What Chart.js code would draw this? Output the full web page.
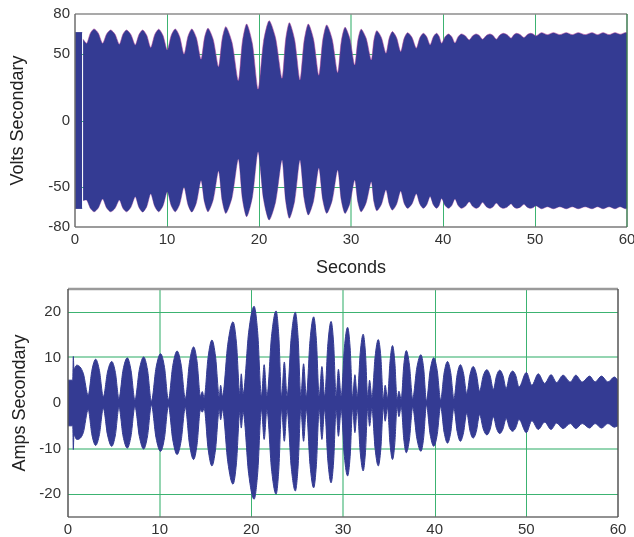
<!DOCTYPE html>
<html>
<head>
<meta charset="utf-8">
<script src="https://cdn.jsdelivr.net/npm/chart.js@4/dist/chart.umd.min.js"></script>
<style>
  html, body { margin: 0; padding: 0; background: #ffffff; }
  body { width: 634px; height: 537px; position: relative; overflow: hidden; }
  #c1wrap { position: absolute; left: 0; top: 0; width: 634px; height: 280px; }
  #c2wrap { position: absolute; left: 0; top: 280px; width: 634px; height: 257px; }
</style>
</head>
<body>
<div id="c1wrap"><canvas id="volts" width="634" height="280"></canvas></div>
<div id="c2wrap"><canvas id="amps" width="634" height="257"></canvas></div>
<script>
// ---------------- DATA ----------------
const xTicks = [0, 10, 20, 30, 40, 50, 60];
const voltsTicks = [-80, -50, 0, 50, 80];
const ampsTicks = [-20, -10, 0, 10, 20];
const voltsGridX = [10, 20, 30, 40, 50];
const voltsGridY = [-50, 0, 50];
const ampsGridX = [10, 20, 30, 40, 50];
const ampsGridY = [-20, -10, 0, 10, 20];

// Volts secondary: initial block (0 - 0.78 s)
const voltsStartTime = [0, 0.78];
const voltsStartUpper = [66, 66];
const voltsStartLower = [-66, -66];

// Volts secondary: envelope of the oscillation (beat peaks, shoulders, troughs)
const voltsTime = [0.88, 1.27, 1.67, 2.07, 2.535, 3.0, 3.44, 3.88, 4.35, 4.82, 5.21, 5.6, 6.075, 6.55, 6.955, 7.36,
  7.795, 8.23, 8.665, 9.1, 9.565, 10.03, 10.465, 10.9, 11.375, 11.85, 12.275, 12.7, 13.2, 13.7, 14.08, 14.46,
  15.03, 15.6, 16.0, 16.4, 17.075, 17.75, 18.205, 18.66, 19.28, 19.9, 20.5, 21.1, 21.8, 22.5, 22.9, 23.3,
  23.875, 24.45, 24.905, 25.36, 25.93, 26.5, 26.93, 27.36, 27.955, 28.55, 28.95, 29.35, 29.875, 30.4, 30.75, 31.1,
  31.65, 32.2, 32.5, 32.8, 33.3, 33.8, 34.15, 34.5, 34.95, 35.4, 35.775, 36.15, 36.625, 37.1, 37.48, 37.86,
  38.23, 38.6, 38.95, 39.3, 39.575, 39.85, 40.225, 40.6, 40.95, 41.3, 41.65, 42.0, 42.425, 42.85, 43.225, 43.6,
  43.95, 44.3, 44.7, 45.1, 45.45, 45.8, 46.175, 46.55, 46.975, 47.4, 47.7, 48.0, 48.4, 48.8, 49.15, 49.5,
  49.8, 50.1, 50.7, 51.35, 52.0, 52.7, 53.4, 54.05, 54.7, 55.45, 56.2, 56.8, 57.4, 58.05, 58.7, 59.25,
  59.8, 60];
const voltsUpper = [61, 58, 65.6, 68.8, 65.6, 58, 65, 68, 64.8, 57.3, 64.8, 68, 64.6, 56.8, 64.6, 68,
  64.0, 54.8, 64.5, 68.6, 63.9, 53, 64.1, 68.8, 63.1, 49.8, 63.1, 68.8, 62.0, 46, 62.3, 69.3,
  60.7, 40.5, 61.5, 70.5, 58.4, 30, 59.8, 72.5, 57.8, 23.5, 59.6, 75, 62.0, 31.7, 61.0, 73.5,
  60.6, 30.5, 59.9, 72.5, 61.0, 34, 60.5, 71.8, 61.1, 36, 59.8, 70, 61.5, 41.7, 60.5, 68.6,
  61.7, 45.5, 60.9, 67.5, 62.4, 50.5, 61.9, 66.8, 62.3, 51.7, 61.7, 66, 62.5, 54.3, 62.1, 65.5,
  62.9, 56.8, 62.9, 65.5, 63.2, 58, 62.9, 65, 63.0, 58.3, 63.0, 65, 63.6, 60.5, 63.6, 65,
  63.8, 61, 63.8, 65, 63.8, 61, 64.2, 65.5, 64.4, 61.8, 64.4, 65.5, 64.5, 62.3, 64.5, 65.5,
  64.9, 63.5, 66, 64.5, 66, 64.5, 66, 64.5, 66, 64.5, 66, 64.5, 66, 64.5, 66, 64.8,
  66, 65.8];
const voltsLower = [-60, -59.8, -66.0, -68.6, -65.7, -59, -65.7, -68.6, -66.0, -59.8, -66.0, -68.6, -65.2, -57.3, -65.4, -68.8,
  -64.7, -55, -64.5, -68.6, -64.1, -53.5, -64.1, -68.6, -63.0, -50, -63.2, -68.8, -61.7, -45, -61.5, -68.6,
  -59.4, -38, -60.3, -69.8, -57.6, -29, -59.3, -72.3, -57.6, -23.4, -59.4, -74.8, -61.3, -29.7, -60.4, -73.5,
  -60.4, -29.7, -58.6, -71, -60.4, -35.7, -59.6, -69.8, -60.0, -37.2, -60.0, -69.8, -62.3, -44.7, -61.4, -68.6,
  -61.8, -46, -61.3, -67.8, -63.1, -52, -62.7, -67.3, -63.0, -53, -62.1, -66, -62.7, -55, -62.7, -66,
  -63.3, -57, -63.3, -66, -63.8, -58.5, -63.8, -66, -63.9, -59, -63.9, -66, -64.5, -61, -64.5, -66,
  -64.7, -61.5, -64.7, -66, -64.8, -62, -64.8, -66, -65.0, -62.5, -65.0, -66, -65.1, -63, -65.1, -66,
  -65.4, -64, -66.3, -64.8, -66.3, -64.8, -66.3, -64.8, -66.3, -64.8, -66.3, -64.8, -66.3, -64.8, -66.3, -64.8,
  -66.3, -66];

// Amps secondary envelope (lobe peaks, shoulders, troughs, small side lobes)
const ampsTime = [0, 0.52, 0.58, 0.65, 0.95, 1.67, 2.2, 2.61, 3.02, 3.43, 3.85, 4.31, 4.77, 5.17, 5.56, 6.0,
  6.47, 6.88, 7.3, 7.78, 8.25, 8.68, 9.1, 9.6, 10.1, 10.53, 10.95, 11.43, 11.9, 12.35, 12.8, 13.25,
  13.7, 14.08, 14.45, 14.65, 14.85, 15.28, 15.7, 16.1, 16.5, 16.65, 16.85, 17.43, 18.0, 18.38, 18.75, 18.9,
  19.1, 19.7, 20.3, 20.7, 21.1, 21.4, 21.7, 22.2, 22.7, 23.0, 23.3, 23.6, 23.9, 24.35, 24.8, 25.1,
  25.4, 25.7, 26.0, 26.4, 26.8, 27.1, 27.4, 27.7, 28.0, 28.35, 28.7, 28.98, 29.25, 29.5, 29.8, 30.15,
  30.5, 30.78, 31.05, 31.3, 31.55, 31.88, 32.2, 32.45, 32.7, 32.9, 33.15, 33.5, 33.85, 34.13, 34.4, 34.6,
  34.85, 35.13, 35.4, 35.65, 35.9, 36.1, 36.35, 36.63, 36.9, 37.25, 37.6, 38.05, 38.5, 38.8, 39.1, 39.5,
  39.9, 40.28, 40.65, 41.03, 41.4, 41.75, 42.1, 42.45, 42.8, 43.15, 43.5, 43.85, 44.2, 44.55, 44.9, 45.3,
  45.7, 46.05, 46.4, 46.75, 47.1, 47.45, 47.8, 48.15, 48.5, 48.85, 49.2, 50.0, 50.6, 51.3, 52.0, 52.7,
  53.3, 54.0, 54.8, 55.4, 56.1, 56.9, 57.5, 58.2, 58.9, 59.6, 60];
const ampsUpper = [5.0, 5.0, 10.2, 7.5, 8.3, 6.5, 1.7, 7.2, 9.6, 7.1, 1.4, 6.8, 9.1, 6.7, 1.0, 7.2,
  9.9, 7.1, 0.7, 7.3, 10.1, 7.2, 0.4, 7.7, 10.8, 7.8, 0.7, 8.2, 11.4, 8.3, 1.0, 8.9,
  12.3, 9.1, 1.5, 2.5, 1.2, 10.0, 13.8, 10.1, 1.5, 3.9, 1.5, 12.9, 17.8, 13.1, 2.0, 6.4,
  2.0, 15.4, 21.2, 15.3, 1.5, 8.4, 1.5, 14.6, 20.2, 14.6, 1.5, 9.0, 1.5, 14.4, 19.9, 14.4,
  1.5, 8.6, 1.5, 13.7, 18.9, 13.7, 1.5, 8.0, 1.5, 13.0, 17.9, 13.0, 1.5, 7.4, 1.5, 12.1,
  16.6, 12.1, 1.3, 6.2, 1.3, 11.0, 15.1, 11.0, 1.2, 5.0, 1.2, 10.1, 13.9, 10.1, 1.0, 3.9,
  1.0, 9.1, 12.6, 9.1, 0.8, 2.6, 0.8, 8.3, 11.5, 8.3, 1.0, 7.7, 10.6, 7.6, 0.5, 7.1,
  9.9, 7.1, 0.7, 6.6, 9.1, 6.7, 1.0, 6.2, 8.4, 6.5, 2.1, 6.2, 8.0, 6.4, 2.6, 6.0,
  7.3, 6.0, 3.0, 6.0, 7.2, 6.0, 3.2, 5.9, 7.0, 6.0, 3.5, 6.7, 3.9, 6.4, 4.3, 6.2,
  4.5, 6.1, 4.6, 6.1, 4.6, 5.9, 4.6, 5.9, 4.6, 5.7, 5.0];
const ampsLower = [-5.0, -5.0, -10.2, -7.0, -8.0, -6.5, -1.5, -7.0, -9.3, -6.9, -1.2, -7.0, -9.5, -7.0, -1.0, -7.2,
  -9.9, -7.2, -0.8, -7.3, -10.1, -7.2, -0.5, -7.6, -10.6, -7.6, -0.7, -8.1, -11.3, -8.2, -1.0, -9.0,
  -12.4, -9.1, -1.5, -2.0, -1.2, -10.0, -13.8, -10.1, -1.5, -3.7, -1.5, -12.9, -17.8, -13.1, -2.0, -5.5,
  -2.0, -15.4, -21.1, -15.2, -1.5, -8.0, -1.5, -14.5, -20.0, -14.5, -1.5, -8.4, -1.5, -14.0, -19.3, -14.0,
  -1.5, -8.4, -1.5, -13.5, -18.6, -13.5, -1.5, -8.0, -1.5, -12.7, -17.5, -12.7, -1.5, -7.3, -1.5, -11.7,
  -16.0, -11.7, -1.3, -6.5, -1.3, -10.8, -14.9, -10.8, -1.2, -5.1, -1.2, -10.0, -13.8, -10.0, -1.0, -4.0,
  -1.0, -9.0, -12.4, -9.0, -0.8, -3.0, -0.8, -7.9, -10.9, -7.9, -1.0, -7.7, -10.6, -7.6, -0.5, -6.8,
  -9.5, -6.9, -0.8, -6.4, -8.8, -6.5, -1.2, -6.2, -8.4, -6.5, -2.2, -6.1, -7.7, -6.2, -2.6, -5.7,
  -7.0, -5.8, -3.0, -5.6, -6.7, -5.7, -3.4, -5.4, -6.2, -5.4, -3.6, -6.5, -3.9, -5.8, -4.2, -5.8,
  -4.4, -5.6, -4.5, -5.6, -4.5, -5.5, -4.5, -5.5, -4.5, -5.3, -5.0];

// ---------------- RENDER ----------------
const FILL = '#343b93';
const GREEN = '#3cb371';
const PALE = 'rgba(60,179,113,0.55)';
const FONT = "'Liberation Sans', Arial, sans-serif";
const toPts = (xs, ys) => xs.map((x, i) => ({ x: x, y: ys[i] }));

// grid lines drawn from the scales, below the data
const gridPlugin = {
  id: 'gridlines',
  beforeDatasetsDraw(chart, args, opts) {
    const { ctx, chartArea: a, scales } = chart;
    ctx.save();
    opts.xs.forEach(v => {
      const pale = opts.paleX.includes(v);
      const px = Math.round(scales.x.getPixelForValue(v)) + (pale ? 0 : 0.5);
      ctx.beginPath(); ctx.strokeStyle = pale ? PALE : GREEN; ctx.lineWidth = pale ? 2 : 1;
      ctx.moveTo(px, a.top); ctx.lineTo(px, a.bottom); ctx.stroke();
    });
    opts.ys.forEach(v => {
      const pale = opts.paleY.includes(v);
      const py = Math.round(scales.y.getPixelForValue(v)) + (pale ? 0 : 0.5);
      ctx.beginPath(); ctx.strokeStyle = pale ? PALE : GREEN; ctx.lineWidth = pale ? 2 : 1;
      ctx.moveTo(a.left, py); ctx.lineTo(a.right, py); ctx.stroke();
    });
    ctx.restore();
  }
};

const framePlugin = {
  id: 'frame',
  afterDatasetsDraw(chart, args, opts) {
    const { ctx, chartArea: a } = chart;
    ctx.save();
    const s = opts.sides;
    const line = (st, x1, y1, x2, y2) => {
      ctx.beginPath(); ctx.strokeStyle = st.color; ctx.lineWidth = st.width;
      ctx.moveTo(x1, y1); ctx.lineTo(x2, y2); ctx.stroke();
    };
    line(s.top, a.left, a.top, a.right, a.top);
    line(s.bottom, a.left, a.bottom, a.right, a.bottom);
    line(s.left, a.left, a.top, a.left, a.bottom);
    line(s.right, a.right, a.top, a.right, a.bottom);
    ctx.restore();
  }
};

function envDataset(pts, fillTarget, border, bw, interp) {
  const d = {
    data: pts, parsing: false, showLine: true, pointRadius: 0,
    borderColor: border, borderWidth: bw, backgroundColor: FILL, fill: fillTarget
  };
  if (interp === 'monotone') d.cubicInterpolationMode = 'monotone'; else d.tension = interp;
  return d;
}

function makeChart(id, cfg) {
  return new Chart(document.getElementById(id), {
    type: 'line',
    data: { datasets: cfg.datasets },
    options: {
      responsive: false, animation: false, events: [],
      layout: { padding: cfg.padding },
      plugins: {
        legend: { display: false }, tooltip: { enabled: false },
        frame: { sides: cfg.frame }, gridlines: cfg.grid
      },
      scales: {
        x: {
          type: 'linear', min: 0, max: 60,
          afterBuildTicks: s => { s.ticks = xTicks.map(v => ({ value: v })); },
          afterFit: s => { s.height = cfg.xHeight; s.paddingLeft = 0; s.paddingRight = 0; },
          ticks: { color: '#333', font: { family: FONT, size: 15 }, padding: cfg.xTickPad, maxRotation: 0, autoSkip: false },
          grid: { display: false, drawTicks: false },
          border: { display: false },
          title: cfg.xTitle
        },
        y: {
          type: 'linear', min: cfg.yMin, max: cfg.yMax,
          afterBuildTicks: s => { s.ticks = cfg.yTicks.map(v => ({ value: v })); },
          afterFit: s => { s.width = cfg.yWidth; s.paddingTop = 0; s.paddingBottom = 0; },
          ticks: { color: '#333', font: { family: FONT, size: 15 }, padding: cfg.yTickPad, autoSkip: false },
          grid: { display: false, drawTicks: false },
          border: { display: false },
          title: { display: true, text: cfg.yTitle, color: '#222', font: { family: FONT, size: 18 }, padding: { top: cfg.yTitlePad, bottom: 0 } }
        }
      }
    },
    plugins: [gridPlugin, framePlugin]
  });
}

const EDGE = 'rgba(170,60,150,0.55)';
makeChart('volts', {
  datasets: [
    envDataset(toPts(voltsStartTime, voltsStartUpper), '+1', FILL, 1, 0),
    envDataset(toPts(voltsStartTime, voltsStartLower), false, FILL, 1, 0),
    envDataset(toPts(voltsTime, voltsUpper), '+1', EDGE, 1, 0.25),
    envDataset(toPts(voltsTime, voltsLower), false, EDGE, 1, 0.25)
  ],
  grid: { xs: voltsGridX, ys: voltsGridY, paleX: [30], paleY: [] },
  padding: { left: 0, right: 7, top: 14, bottom: 0 },
  xHeight: 53, xTickPad: 4, yWidth: 75, yTickPad: 5, yTitlePad: 7,
  yMin: -80, yMax: 80, yTicks: voltsTicks, yTitle: 'Volts Secondary',
  xTitle: { display: true, text: 'Seconds', color: '#222', font: { family: FONT, size: 18 }, padding: { top: 0, bottom: 1 } },
  frame: {
    top: { color: '#8c8c8c', width: 1.5 }, bottom: { color: '#7a7a7a', width: 1.5 },
    left: { color: '#6e6e6e', width: 1.5 }, right: { color: '#3c7a50', width: 1.5 }
  }
});

makeChart('amps', {
  datasets: [
    envDataset(toPts(ampsTime, ampsUpper), '+1', FILL, 1, 'monotone'),
    envDataset(toPts(ampsTime, ampsLower), false, FILL, 1, 'monotone')
  ],
  grid: { xs: ampsGridX, ys: ampsGridY, paleX: [10, 30], paleY: [-10, 10] },
  padding: { left: 0, right: 16, top: 9, bottom: 0 },
  xHeight: 20, xTickPad: 4, yWidth: 68, yTickPad: 7, yTitlePad: 9,
  yMin: -25, yMax: 25, yTicks: ampsTicks, yTitle: 'Amps Secondary',
  xTitle: { display: false },
  frame: {
    top: { color: '#9a9a9a', width: 2.5 }, bottom: { color: '#6e6e6e', width: 1.5 },
    left: { color: '#555555', width: 1.5 }, right: { color: '#555555', width: 1.5 }
  }
});
</script>
</body>
</html>
